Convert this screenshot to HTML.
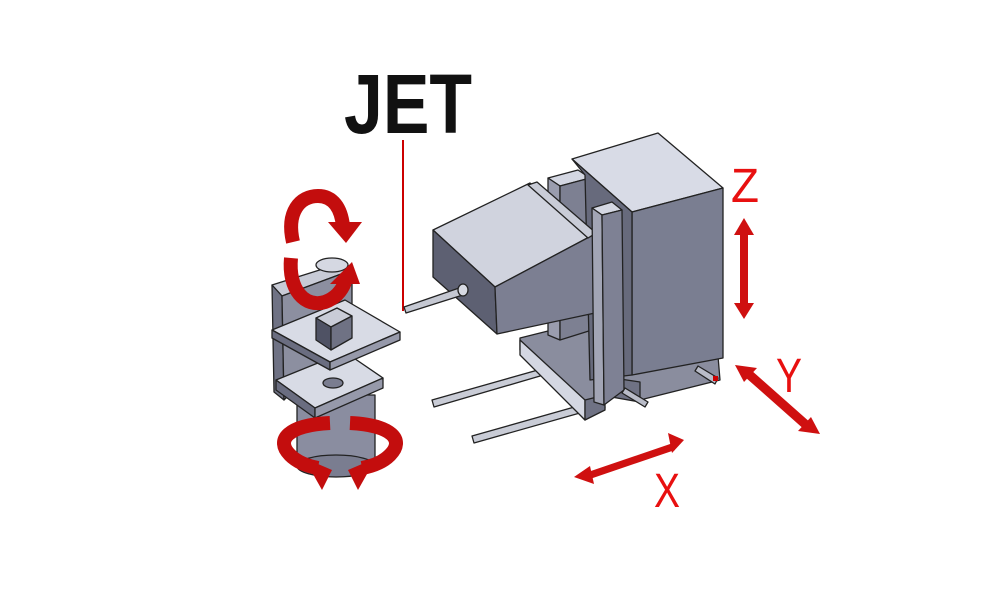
<!DOCTYPE html>
<html><head><meta charset="utf-8"><style>
html,body{margin:0;padding:0;background:#fff;}
svg{display:block;}
</style></head><body>
<svg width="1000" height="600" viewBox="0 0 1000 600" xmlns="http://www.w3.org/2000/svg">
<rect width="1000" height="600" fill="#fff"/>
<text x="344" y="133" font-family="Liberation Sans, sans-serif" font-weight="bold" font-size="84" fill="#111" textLength="128" lengthAdjust="spacingAndGlyphs">JET</text>
<line x1="403" y1="140" x2="403" y2="311" stroke="#c00" stroke-width="2"/>

<g stroke="#222" stroke-width="1.3" stroke-linejoin="round">
<polygon points="432,400 545,368 547,374 434,407" fill="#c9ccd6"/>
<polygon points="472,436 592,402 594,409 474,443" fill="#c9ccd6"/>
<polygon points="520,338 600,318 605,408 585,420 520,350" fill="#8a8d9e"/>
<polygon points="520,340 585,400 585,420 520,355" fill="#d4d7e2"/>
<polygon points="585,400 605,395 605,410 585,420" fill="#6f7284"/>
<polygon points="600,372 718,356 720,380 640,400 600,392" fill="#8a8d9e"/>
<polygon points="600,376 640,382 640,402 600,395" fill="#6f7284"/>
<polygon points="548,178 578,170 590,178 560,186" fill="#d4d7e2"/>
<polygon points="548,178 560,186 560,340 548,335" fill="#9a9dae"/>
<polygon points="560,186 590,178 592,330 560,340" fill="#7d8092"/>
<polygon points="572,159 658,133 723,188 632,212" fill="#d8dbe6"/>
<polygon points="632,212 723,188 723,358 632,375" fill="#7a7e91"/>
<polygon points="572,159 632,212 632,375 590,380 585,175" fill="#676a7c"/>
<polygon points="433,230 530,183 593,235 495,287" fill="#d0d3de"/>
<polygon points="433,230 495,287 497,334 433,277" fill="#5d6072"/>
<polygon points="495,287 593,235 595,313 497,334" fill="#7c7f92"/>
<polygon points="528,185 537,182 596,233 588,238" fill="#c9ccd7"/>
<polygon points="592,208 612,202 622,210 602,215" fill="#d4d7e2"/>
<polygon points="592,208 602,215 604,405 594,402" fill="#a2a5b5"/>
<polygon points="602,215 622,210 624,390 604,405" fill="#7e8194"/>
<polygon points="404,307 462,287 466,294 406,313" fill="#c5c8d2"/>
<ellipse cx="463" cy="290" rx="5" ry="6" fill="#d6d9e2"/>
<polygon points="625,388 648,402 645,407 622,393" fill="#b9bcc8"/>
<polygon points="698,366 718,378 715,384 695,371" fill="#b9bcc8"/>
</g>
<rect x="713" y="376" width="5" height="5" fill="#c00"/>

<g stroke="#222" stroke-width="1.3" stroke-linejoin="round">
<polygon points="272,285 345,262 352,270 282,296" fill="#c8cbd6"/>
<polygon points="272,285 282,296 284,400 274,392" fill="#6f7284"/>
<polygon points="282,296 352,270 352,330 284,400" fill="#8c8fa0"/>
<ellipse cx="332" cy="265" rx="16" ry="7" fill="#d5d8e2"/>
<rect x="297" y="395" width="78" height="70" fill="#8a8da0"/>
<ellipse cx="336" cy="466" rx="39" ry="11" fill="#7a7d90"/>
<polygon points="276,380 345,352 383,378 315,408" fill="#d8dbe5"/>
<polygon points="276,380 315,408 315,418 276,390" fill="#6a6d80"/>
<polygon points="315,408 383,378 383,388 315,418" fill="#9699aa"/>
<ellipse cx="333" cy="383" rx="10" ry="5" fill="#7a7d90"/>
<polygon points="272,330 345,300 400,332 330,362" fill="#d8dbe5"/>
<polygon points="272,330 330,362 330,370 272,338" fill="#6a6d80"/>
<polygon points="330,362 400,332 400,340 330,370" fill="#9699aa"/>
<polygon points="316,318 337,308 352,316 331,327" fill="#c9ccd7"/>
<polygon points="316,318 331,327 331,350 316,340" fill="#4f5264"/>
<polygon points="331,327 352,316 352,338 331,350" fill="#6f7284"/>
</g>

<!-- red rotation arrows -->
<g fill="none" stroke="#c30d0d" stroke-width="14">
<path d="M293 242 C286 212 300 196 318 196 C333 196 341 208 343 226"/>
<path d="M291 258 C288 290 305 308 325 302 C336 298 342 290 345 282"/>
<path d="M330 423 C288 425 275 440 290 455 C297 462 307 466 318 468"/>
<path d="M350 423 C392 425 405 440 390 455 C383 462 373 466 362 468"/>
</g>
<polygon points="328,222 362,222 346,243" fill="#c30d0d"/>
<polygon points="330,284 360,284 352,262" fill="#c30d0d"/>
<polygon points="304,458 332,470 322,490" fill="#c30d0d"/>
<polygon points="376,458 348,470 358,490" fill="#c30d0d"/>

<g fill="#cf1010">
<rect x="740" y="230" width="8" height="78"/>
<polygon points="734,235 754,235 744,218"/>
<polygon points="734,303 754,303 744,319"/>
<polygon points="745,377 751,370 812,424 806,431"/>
<polygon points="735,365 757,368 744,382"/>
<polygon points="820,434 798,431 811,417"/>
<polygon points="585,473 673,443 675,450 587,480"/>
<polygon points="574,477 590,466 594,484"/>
<polygon points="684,440 668,433 672,453"/>
</g>
<g font-family="Liberation Sans, sans-serif" font-size="48" fill="#e81010">
<text x="731" y="202" textLength="28" lengthAdjust="spacingAndGlyphs">Z</text>
<text x="776" y="392" textLength="26" lengthAdjust="spacingAndGlyphs">Y</text>
<text x="654" y="507" textLength="26" lengthAdjust="spacingAndGlyphs">X</text>
</g>
</svg>
</body></html>
